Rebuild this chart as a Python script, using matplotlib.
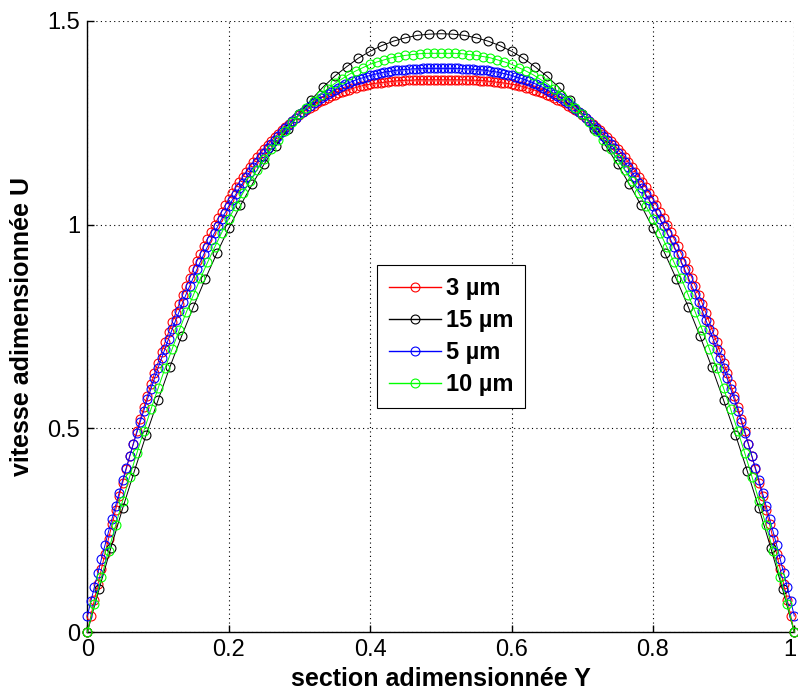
import numpy as np
import matplotlib
matplotlib.use('Agg')
import matplotlib.pyplot as plt
from matplotlib.transforms import ScaledTranslation

# half profiles from the wall (Y=0) to the centre (Y=0.5)
u_3um_half = [0.000, 0.040, 0.080, 0.118, 0.156, 0.193, 0.230, 0.265, 0.300, 0.334,
              0.367, 0.400, 0.432, 0.463, 0.493, 0.523, 0.552, 0.580, 0.608, 0.635,
              0.661, 0.687, 0.712, 0.736, 0.760, 0.783, 0.806, 0.828, 0.849, 0.870,
              0.890, 0.910, 0.929, 0.948, 0.965, 0.983, 1.000, 1.016, 1.032, 1.047,
              1.062, 1.077, 1.091, 1.104, 1.117, 1.130, 1.142, 1.153, 1.165, 1.175,
              1.186, 1.196, 1.205, 1.214, 1.223, 1.232, 1.240, 1.247, 1.255, 1.262,
              1.268, 1.275, 1.281, 1.286, 1.292, 1.297, 1.302, 1.306, 1.311, 1.315,
              1.318, 1.322, 1.325, 1.328, 1.331, 1.334, 1.336, 1.339, 1.341, 1.343,
              1.344, 1.346, 1.347, 1.348, 1.349, 1.350, 1.351, 1.352, 1.353, 1.353,
              1.354, 1.354, 1.354, 1.355, 1.355, 1.355, 1.355, 1.355, 1.355, 1.355, 1.355]
u_15um_half = [0.000, 0.106, 0.207, 0.304, 0.396, 0.485, 0.569, 0.650, 0.726, 0.798,
               0.866, 0.930, 0.991, 1.047, 1.099, 1.148, 1.193, 1.234, 1.272, 1.306,
               1.337, 1.364, 1.387, 1.408, 1.425, 1.439, 1.450, 1.458, 1.464, 1.467, 1.468]
u_5um_half = [0.040, 0.076, 0.111, 0.146, 0.180, 0.214, 0.247, 0.279, 0.311, 0.342,
              0.373, 0.403, 0.432, 0.461, 0.489, 0.517, 0.544, 0.571, 0.597, 0.623,
              0.648, 0.672, 0.696, 0.720, 0.743, 0.765, 0.787, 0.809, 0.830, 0.850,
              0.870, 0.890, 0.909, 0.928, 0.946, 0.963, 0.980, 0.997, 1.014, 1.029,
              1.045, 1.060, 1.074, 1.089, 1.102, 1.116, 1.129, 1.141, 1.153, 1.165,
              1.176, 1.187, 1.198, 1.208, 1.218, 1.227, 1.237, 1.245, 1.254, 1.262,
              1.270, 1.277, 1.284, 1.291, 1.298, 1.304, 1.310, 1.316, 1.321, 1.326,
              1.331, 1.336, 1.340, 1.344, 1.348, 1.351, 1.355, 1.358, 1.360, 1.363,
              1.366, 1.368, 1.370, 1.372, 1.374, 1.375, 1.376, 1.378, 1.379, 1.380,
              1.380, 1.381, 1.382, 1.382, 1.382, 1.383, 1.383, 1.383, 1.383, 1.383, 1.383]
u_10um_half = [0.000, 0.069, 0.135, 0.200, 0.262, 0.323, 0.382, 0.439, 0.494, 0.547,
               0.598, 0.648, 0.695, 0.741, 0.785, 0.827, 0.868, 0.907, 0.944, 0.980,
               1.014, 1.046, 1.077, 1.106, 1.134, 1.160, 1.185, 1.208, 1.230, 1.251,
               1.270, 1.287, 1.304, 1.319, 1.333, 1.346, 1.357, 1.368, 1.377, 1.385,
               1.393, 1.399, 1.404, 1.409, 1.412, 1.415, 1.417, 1.419, 1.420, 1.420, 1.420]

labels = ['3 µm', '15 µm', '5 µm', '10 µm']
colors = ['#ff0000', '#000000', '#0000ff', '#00ff00']
xticks = [0, 0.2, 0.4, 0.6, 0.8, 1]
xticklabels = ['0', '0.2', '0.4', '0.6', '0.8', '1']
yticks = [0, 0.5, 1, 1.5]
yticklabels = ['0', '0.5', '1', '1.5']


def full_profile(half):
    # the profiles are symmetric about the channel centre
    half = np.array(half)
    return np.concatenate([half, half[-2::-1]])


plt.rcParams['font.family'] = ['Liberation Sans', 'DejaVu Sans']

fig = plt.figure(figsize=(7.98, 6.90), dpi=100)
ax = fig.add_axes([0.1094, 0.0836, 0.886, 0.8864])

for half, lab, col in zip([u_3um_half, u_15um_half, u_5um_half, u_10um_half], labels, colors):
    u = full_profile(half)
    y = np.linspace(0, 1, len(u))
    ax.plot(y, u, '-o', color=col, lw=0.7, ms=6.4, mfc='none', mew=0.8,
            label=lab, clip_on=False, zorder=3)

ax.set_xlim(0, 1)
ax.set_ylim(0, 1.5)
ax.set_xticks(xticks)
ax.set_xticklabels(xticklabels)
ax.set_yticks(yticks)
ax.set_yticklabels(yticklabels)
ax.tick_params(direction='in', length=5, width=1, labelsize=17, pad=5)
ax.grid(True, linestyle=(0, (1, 3)), color='black', lw=0.8)

# the last x label sits right at the figure edge, nudge it in a little
last = ax.get_xticklabels()[-1]
last.set_transform(last.get_transform() + ScaledTranslation(-3 / 72, 0, fig.dpi_scale_trans))

ax.spines['top'].set_visible(False)
ax.spines['right'].set_visible(False)
ax.spines['left'].set_linewidth(1)
ax.spines['bottom'].set_linewidth(1)

ax.set_xlabel('section adimensionnée Y', fontsize=18, fontweight='bold', labelpad=4)
ax.set_ylabel('vitesse adimensionnée U', fontsize=18, fontweight='bold', labelpad=10)

leg = ax.legend(loc='upper left', bbox_to_anchor=(0.41, 0.60), fancybox=False,
                edgecolor='black', framealpha=1, prop={'weight': 'bold', 'size': 17},
                handlelength=2.2, handletextpad=0.2, borderpad=0.5, labelspacing=0.38,
                borderaxespad=0)
leg.get_frame().set_linewidth(0.8)
for h in leg.get_lines():
    h.set_linewidth(1.0)

fig.savefig('out.png', dpi=100)
